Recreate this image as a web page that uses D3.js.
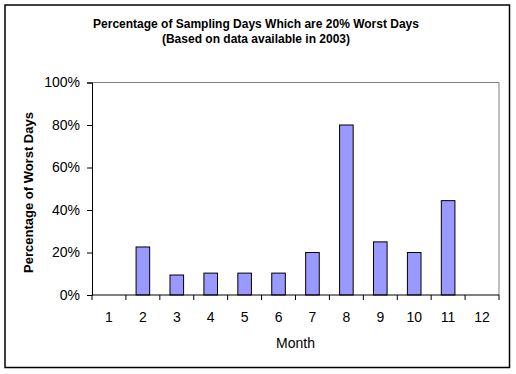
<!DOCTYPE html>
<html>
<head>
<meta charset="utf-8">
<script src="https://cdn.jsdelivr.net/npm/d3@7"></script>
<style>
    body { margin: 0; background: #fff; }
    text { font-family: Arial, "Liberation Sans", sans-serif; fill: #000; }
</style>
</head>
<body>
<div id="chart"></div>
<script>
(function () {
    "use strict";

    var months = ["1", "2", "3", "4", "5", "6", "7", "8", "9", "10", "11", "12"];
    var worstPct = [0, 22.6, 9.4, 10.3, 10.3, 10.3, 20, 80, 25, 20, 44.4, 0];
    var yTicks = [0, 20, 40, 60, 80, 100];

    var width = 516, height = 374;
    var margin = { top: 82.5, right: 17, bottom: 79, left: 92 };

    var svg = d3.select("#chart").append("svg")
        .attr("width", width)
        .attr("height", height);

    // outer frame
    svg.append("rect")
        .attr("x", 5).attr("y", 5)
        .attr("width", 504.5).attr("height", 362.5)
        .attr("fill", "#fff")
        .attr("stroke", "#000")
        .attr("stroke-width", 1.5);

    var x = d3.scaleBand()
        .domain(months)
        .range([margin.left, width - margin.right])
        .paddingInner(0.6).paddingOuter(0.3);

    var band = d3.scaleBand()
        .domain(months)
        .range([margin.left, width - margin.right]);

    var y = d3.scaleLinear()
        .domain([0, 100])
        .range([height - margin.bottom, margin.top]);

    // plot frame (grey top/right)
    svg.append("path")
        .attr("d", "M" + margin.left + "," + y(100) + "H" + (width - margin.right) + "V" + y(0))
        .attr("fill", "none")
        .attr("stroke", "#808080")
        .attr("stroke-width", 1);

    svg.selectAll(".bar")
        .data(worstPct)
        .enter().append("rect")
        .attr("class", "bar")
        .attr("x", function (d, i) { return band(months[i]) + (band.bandwidth() - 13.6) / 2; })
        .attr("width", 13.6)
        .attr("y", function (d) { return y(d); })
        .attr("height", function (d) { return y(0) - y(d); })
        .attr("fill", "#9999FF")
        .attr("stroke", "#000")
        .attr("stroke-width", 1)
        .style("display", function (d) { return d > 0 ? null : "none"; });

    var yAxis = d3.axisLeft(y)
        .tickValues(yTicks)
        .tickSize(5)
        .tickPadding(7)
        .tickFormat(function (d) { return d + "%"; });

    var gy = svg.append("g")
        .attr("transform", "translate(" + margin.left + ",0)")
        .call(yAxis);
    gy.select(".domain").attr("stroke", "#000");
    gy.selectAll("text").style("font-size", "14px").attr("fill", "#000");

    // x axis: ticks at category boundaries
    var gx = svg.append("g")
        .attr("transform", "translate(0," + y(0) + ")");
    gx.append("line")
        .attr("x1", margin.left).attr("x2", width - margin.right)
        .attr("stroke", "#000");
    var edges = months.map(function (m) { return band(m); }).concat([width - margin.right]);
    gx.selectAll(".xtick")
        .data(edges)
        .enter().append("line")
        .attr("x1", function (d) { return d; })
        .attr("x2", function (d) { return d; })
        .attr("y1", 0).attr("y2", 5)
        .attr("stroke", "#000");
    gx.selectAll(".xlabel")
        .data(months)
        .enter().append("text")
        .attr("x", function (d) { return band(d) + band.bandwidth() / 2; })
        .attr("y", 27)
        .attr("text-anchor", "middle")
        .style("font-size", "14px")
        .text(function (d) { return d; });

    svg.append("text")
        .attr("x", (margin.left + width - margin.right) / 2)
        .attr("y", 348)
        .attr("text-anchor", "middle")
        .style("font-size", "14px")
        .text("Month");

    svg.append("text")
        .attr("transform", "translate(33,192.5) rotate(-90)")
        .attr("text-anchor", "middle")
        .style("font-size", "13px")
        .style("font-weight", "bold")
        .text("Percentage of Worst Days");

    svg.append("text")
        .attr("x", 256)
        .attr("y", 28)
        .attr("text-anchor", "middle")
        .style("font-size", "12px")
        .style("font-weight", "bold")
        .text("Percentage of Sampling Days Which are 20% Worst Days");

    svg.append("text")
        .attr("x", 256)
        .attr("y", 43)
        .attr("text-anchor", "middle")
        .style("font-size", "12px")
        .style("font-weight", "bold")
        .text("(Based on data available in 2003)");
})();
</script>
</body>
</html>
